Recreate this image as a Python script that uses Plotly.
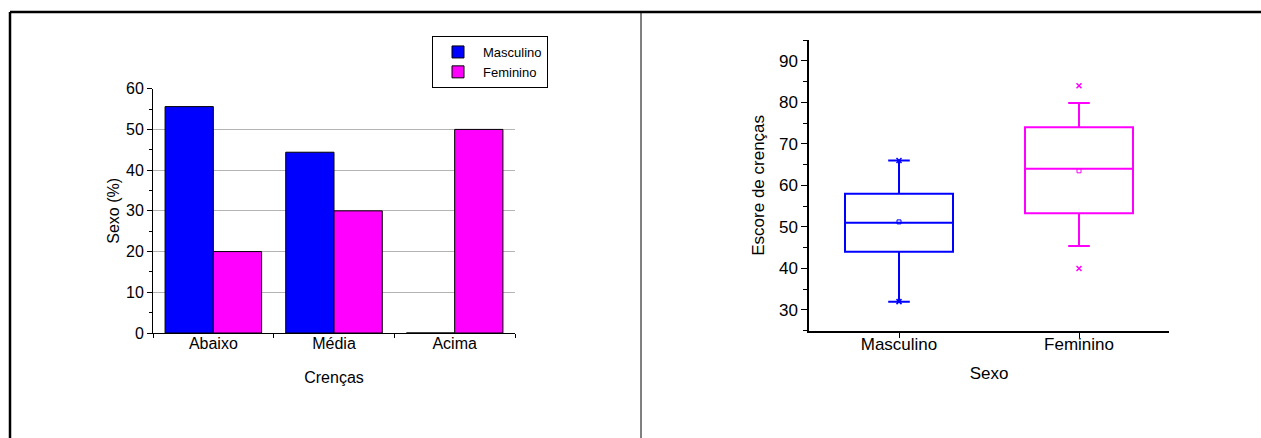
import plotly.graph_objects as go

# ---- data: left bar chart ----
categories = ["Abaixo", "Média", "Acima"]
masculino_pct = [55.6, 44.4, 0]
feminino_pct = [20, 30, 50]

# ---- data: right box plot ----
groups = ["Masculino", "Feminino"]
q1 = [44.0, 53.3]
median = [51.0, 64.0]
q3 = [58.0, 74.0]
lower_whisker = [32.0, 45.4]
upper_whisker = [66.0, 79.8]
means = [51.2, 63.5]
extreme_low = [32.0, 40.0]
extreme_high = [66.0, 84.0]

BLUE = "#0000FF"
MAGENTA = "#FF00FF"
FONT = "Liberation Sans, Arial, sans-serif"

fig = go.Figure()

fig.add_trace(go.Bar(
    x=categories, y=masculino_pct, name="Masculino",
    marker=dict(color=BLUE, line=dict(color="black", width=1)),
    xaxis="x", yaxis="y",
))
fig.add_trace(go.Bar(
    x=categories, y=feminino_pct, name="Feminino",
    marker=dict(color=MAGENTA, line=dict(color="black", width=1)),
    xaxis="x", yaxis="y",
))

colors = [BLUE, MAGENTA]
for i, g in enumerate(groups):
    fig.add_trace(go.Box(
        x=[g], q1=[q1[i]], median=[median[i]], q3=[q3[i]],
        lowerfence=[lower_whisker[i]], upperfence=[upper_whisker[i]],
        width=0.6, whiskerwidth=0.2,
        line=dict(color=colors[i], width=2),
        fillcolor="rgba(0,0,0,0)",
        boxpoints=False, showlegend=False,
        xaxis="x2", yaxis="y2", hoverinfo="skip",
    ))
    fig.add_trace(go.Scatter(
        x=[g], y=[means[i]], mode="markers",
        marker=dict(symbol="square-open", size=4, color=colors[i], line=dict(width=1)),
        showlegend=False, xaxis="x2", yaxis="y2",
    ))
    fig.add_trace(go.Scatter(
        x=[g, g], y=[extreme_low[i], extreme_high[i]], mode="markers",
        marker=dict(symbol="x-thin", size=5, color=colors[i],
                    line=dict(width=1.5, color=colors[i])),
        showlegend=False, xaxis="x2", yaxis="y2",
    ))

W, H = 1261, 438

fig.update_layout(
    autosize=True,
    margin=dict(l=0, r=0, t=0, b=0, pad=0, autoexpand=False),
    paper_bgcolor="white", plot_bgcolor="white",
    font=dict(family=FONT, size=15, color="black"),
    barmode="group", bargap=0.2, bargroupgap=0,
    showlegend=True,
    legend=dict(
        x=432 / W, y=1 - 36 / H, xanchor="left", yanchor="top",
        bordercolor="black", borderwidth=1, bgcolor="white",
        font=dict(size=13), tracegroupgap=0, itemwidth=40,
    ),
    xaxis=dict(
        domain=[153 / W, 515 / W], anchor="y", automargin=False,
        showline=True, linecolor="black", linewidth=1,
        ticks="outside", ticklen=4, tickson="boundaries", tickcolor="black",
        ticklabelstandoff=-4,
        title=dict(text="Crenças", font=dict(size=16), standoff=20),
        tickfont=dict(size=16),
    ),
    yaxis=dict(
        domain=[1 - 333 / H, 1 - 88.7 / H], anchor="x", automargin=False,
        range=[0, 60], dtick=10, tick0=0,
        showline=True, linecolor="black", linewidth=1,
        ticks="outside", ticklen=5, tickcolor="black",
        minor=dict(dtick=5, ticks="outside", ticklen=3, tickcolor="black", showgrid=False),
        showgrid=True, gridcolor="#B4B4B4", gridwidth=1,
        zeroline=False,
        title=dict(text="Sexo (%)", font=dict(size=16), standoff=2),
        tickfont=dict(size=16),
    ),
    xaxis2=dict(
        domain=[809 / W, 1169 / W], anchor="y2", automargin=False,
        range=[-0.5, 1.5],
        showline=True, linecolor="black", linewidth=1.5,
        ticks="outside", ticklen=6, tickcolor="black",
        ticklabelstandoff=-9,
        title=dict(text="Sexo", font=dict(size=17), standoff=14),
        tickfont=dict(size=17),
        showgrid=False,
    ),
    yaxis2=dict(
        domain=[1 - 330.7 / H, 1 - 40 / H], anchor="x2", automargin=False,
        range=[25, 95], dtick=10, tick0=0,
        showline=True, linecolor="black", linewidth=1.5,
        ticks="outside", ticklen=6, tickcolor="black",
        minor=dict(dtick=5, ticks="outside", ticklen=4, tickcolor="black", showgrid=False),
        showgrid=False, zeroline=False,
        title=dict(text="Escore de crenças", font=dict(size=17), standoff=10),
        tickfont=dict(size=17),
    ),
    shapes=[
        dict(type="line", xref="paper", yref="paper", x0=10 / W, x1=1, y0=1 - 12 / H, y1=1 - 12 / H,
             line=dict(color="black", width=2.5)),
        dict(type="line", xref="paper", yref="paper", x0=10 / W, x1=10 / W, y0=0, y1=1 - 12 / H,
             line=dict(color="black", width=2.5)),
        dict(type="line", xref="paper", yref="paper", x0=641 / W, x1=641 / W, y0=0, y1=1 - 12 / H,
             line=dict(color="black", width=1)),
    ],
)

fig.write_html(
    "out.html",
    config={"displayModeBar": False, "responsive": True},
    default_width="100%", default_height="100%",
)

# make the page exactly fill the window with no default margins
with open("out.html", "r", encoding="utf-8") as f:
    html = f.read()
html = html.replace(
    "<head>",
    "<head><style>html,body{margin:0;padding:0;width:100%;height:100%;overflow:hidden;}"
    "body>div{width:100%;height:100%;}</style>",
    1,
)
with open("out.html", "w", encoding="utf-8") as f:
    f.write(html)
